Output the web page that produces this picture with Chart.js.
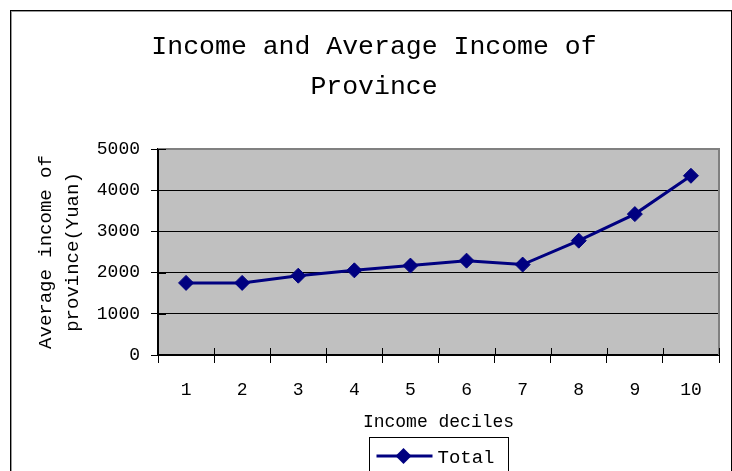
<!DOCTYPE html>
<html>
<head>
<meta charset="utf-8">
<script src="https://cdn.jsdelivr.net/npm/chart.js@4.4.1/dist/chart.umd.min.js"></script>
<style>
  html, body { margin: 0; padding: 0; background: #fff; overflow: hidden; }
  #frame {
    position: absolute; left: 10px; top: 10px; width: 720px; height: 520px;
    border: 1px solid #000; box-shadow: inset 1px 1px 0 #999;
  }
  #chart { position: absolute; left: 0; top: 0; }
</style>
</head>
<body>
<div id="frame"></div>
<canvas id="chart" width="732" height="471"></canvas>
<script>
const deciles = ["1", "2", "3", "4", "5", "6", "7", "8", "9", "10"];
const totalIncome = [1750, 1750, 1925, 2055, 2170, 2290, 2195, 2775, 3420, 4350];
const yTicks = [0, 1000, 2000, 3000, 4000, 5000];

const FONT = "'Liberation Mono', 'DejaVu Sans Mono', monospace";
const NAVY = "#000080";

// grey plot background + grey top/right frame
const plotArea = {
  id: "plotArea",
  beforeDraw(chart) {
    const { ctx, chartArea: a } = chart;
    ctx.save();
    ctx.fillStyle = "#c0c0c0";
    ctx.fillRect(a.left, a.top, a.right - a.left, a.bottom - a.top);
    ctx.restore();
  },
  beforeDatasetsDraw(chart) {
    const { ctx, chartArea: a, scales } = chart;
    ctx.save();
    ctx.strokeStyle = "#808080";
    ctx.lineWidth = 2;
    ctx.beginPath();
    ctx.moveTo(a.left, a.top);
    ctx.lineTo(a.right, a.top);
    ctx.lineTo(a.right, a.bottom);
    ctx.stroke();
    // inner half of the tick marks
    ctx.strokeStyle = "#000";
    ctx.lineWidth = 1;
    ctx.beginPath();
    scales.y.ticks.forEach((t, i) => {
      const y = Math.round(scales.y.getPixelForTick(i)) + 0.5;
      ctx.moveTo(a.left, y);
      ctx.lineTo(a.left + 8, y);
    });
    for (let i = 0; i <= deciles.length; i++) {
      const x = Math.round(scales.x.getPixelForValue(i - 0.5)) + 0.5;
      ctx.moveTo(x, a.bottom);
      ctx.lineTo(x, a.bottom - 7);
    }
    ctx.stroke();
    ctx.restore();
  }
};

// boxed legend under the axis title
const boxLegend = {
  id: "boxLegend",
  afterDraw(chart) {
    const { ctx, chartArea: a } = chart;
    const ds = chart.data.datasets[0];
    const cx = (a.left + a.right) / 2;
    const left = Math.round(cx - 70) + 0.5, top = 437.5;
    ctx.save();
    ctx.strokeStyle = "#000";
    ctx.lineWidth = 1;
    ctx.strokeRect(left, top, 139, 45);
    const ly = 456;
    ctx.strokeStyle = ds.borderColor;
    ctx.lineWidth = 3;
    ctx.beginPath();
    ctx.moveTo(left + 7, ly);
    ctx.lineTo(left + 63, ly);
    ctx.stroke();
    ctx.fillStyle = ds.pointBackgroundColor;
    ctx.beginPath();
    ctx.moveTo(left + 34 - 8, ly);
    ctx.lineTo(left + 34, ly - 8);
    ctx.lineTo(left + 34 + 8, ly);
    ctx.lineTo(left + 34, ly + 8);
    ctx.closePath();
    ctx.fill();
    ctx.fillStyle = "#000";
    ctx.font = "19px " + FONT;
    ctx.textBaseline = "middle";
    ctx.fillText(ds.label, left + 68, ly + 2);
    ctx.restore();
  }
};

new Chart(document.getElementById("chart").getContext("2d"), {
  type: "line",
  data: {
    labels: deciles,
    datasets: [
      {
        label: "Total",
        data: totalIncome,
        borderColor: NAVY,
        borderWidth: 3,
        pointStyle: "rectRot",
        pointRadius: 7.5,
        pointHoverRadius: 7.5,
        pointBackgroundColor: NAVY,
        pointBorderColor: NAVY,
        pointBorderWidth: 1,
        tension: 0,
      },
    ],
  },
  options: {
    responsive: false,
    animation: false,
    layout: { padding: { left: 29, right: 13, top: 0, bottom: 0 } },
    plugins: {
      legend: { display: false },
      tooltip: { enabled: false },
      title: {
        display: true,
        text: ["Income and Average Income of", "Province"],
        color: "#000",
        font: { family: FONT, size: 26.5, weight: "normal", lineHeight: 1.5 },
        padding: { top: 27, bottom: 42.5 },
      },
    },
    scales: {
      x: {
        offset: true,
        grid: { offset: true, drawOnChartArea: false, drawTicks: true, tickLength: 8, color: "#000", tickColor: "#000" },
        border: { display: true, color: "#000", width: 2 },
        ticks: { color: "#000", padding: 16, font: { family: FONT, size: 18 }, maxRotation: 0 },
        title: {
          display: true,
          text: "Income deciles",
          color: "#000",
          font: { family: FONT, size: 18, lineHeight: 1.2 },
          padding: { top: 0, bottom: 38 },
        },
        afterFit(scale) { scale.height = 116; },
      },
      y: {
        min: 0,
        max: 5000,
        afterBuildTicks(scale) { scale.ticks = yTicks.map((v) => ({ value: v })); },
        grid: { color: "#000", lineWidth: 1, drawTicks: true, tickLength: 7, tickColor: "#000" },
        border: { display: true, color: "#000", width: 2 },
        ticks: {
          color: "#000",
          padding: 11,
          font: { family: FONT, size: 18 },
          callback: (value) => String(value),
        },
        title: {
          display: true,
          text: ["Average income of", "province(Yuan)"],
          color: "#000",
          font: { family: FONT, size: 19, lineHeight: 1.45 },
          padding: { top: 3, bottom: 0 },
        },
        afterFit(scale) { scale.width = 129; },
      },
    },
  },
  plugins: [plotArea, boxLegend],
});
</script>
</body>
</html>
